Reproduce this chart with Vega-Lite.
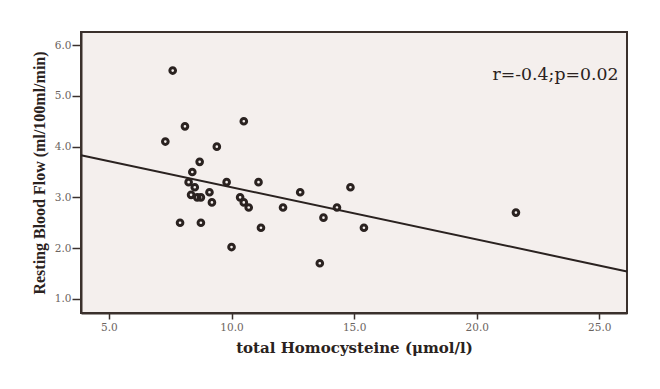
{
  "$schema": "https://vega.github.io/schema/vega-lite/v6.json",
  "autosize": "none",
  "width": 546,
  "height": 281,
  "padding": {"left": 81, "top": 32, "right": 33, "bottom": 76},
  "background": "#ffffff",
  "config": {
    "view": {"fill": "#f4efed", "stroke": "#3a302c", "strokeWidth": 2},
    "font": "Liberation Serif",
    "axis": {
      "grid": false,
      "domainColor": "#3a302c",
      "domainWidth": 2,
      "tickColor": "#3a302c",
      "tickWidth": 1.5,
      "labelFont": "DejaVu Serif",
      "labelFontSize": 10.5,
      "labelColor": "#6b6460",
      "titleFontWeight": "bold",
      "titleColor": "#2a2220"
    }
  },
  "datasets": {
    "points": [
      {"hcy": 7.6, "rbf": 5.5},
      {"hcy": 8.1, "rbf": 4.4},
      {"hcy": 7.3, "rbf": 4.1},
      {"hcy": 10.5, "rbf": 4.5},
      {"hcy": 9.4, "rbf": 4.0},
      {"hcy": 8.7, "rbf": 3.7},
      {"hcy": 8.4, "rbf": 3.5},
      {"hcy": 8.25, "rbf": 3.3},
      {"hcy": 8.5, "rbf": 3.2},
      {"hcy": 9.8, "rbf": 3.3},
      {"hcy": 11.1, "rbf": 3.3},
      {"hcy": 12.8, "rbf": 3.1},
      {"hcy": 14.85, "rbf": 3.2},
      {"hcy": 8.35, "rbf": 3.05},
      {"hcy": 8.6, "rbf": 3.0},
      {"hcy": 8.75, "rbf": 3.0},
      {"hcy": 9.1, "rbf": 3.1},
      {"hcy": 9.2, "rbf": 2.9},
      {"hcy": 10.35, "rbf": 3.0},
      {"hcy": 10.5, "rbf": 2.9},
      {"hcy": 10.7, "rbf": 2.8},
      {"hcy": 12.1, "rbf": 2.8},
      {"hcy": 14.3, "rbf": 2.8},
      {"hcy": 13.75, "rbf": 2.6},
      {"hcy": 7.9, "rbf": 2.5},
      {"hcy": 8.75, "rbf": 2.5},
      {"hcy": 11.2, "rbf": 2.4},
      {"hcy": 10.0, "rbf": 2.02},
      {"hcy": 13.6, "rbf": 1.7},
      {"hcy": 15.4, "rbf": 2.4},
      {"hcy": 21.6, "rbf": 2.7}
    ],
    "fit": [
      {"hcy": 3.86, "rbf": 3.83},
      {"hcy": 26.13, "rbf": 1.54}
    ]
  },
  "layer": [
    {
      "data": {"name": "fit"},
      "mark": {"type": "line", "color": "#2a2220", "strokeWidth": 2},
      "encoding": {
        "x": {
          "field": "hcy", "type": "quantitative",
          "title": "total Homocysteine (μmol/l)",
          "scale": {"domain": [3.86, 26.13], "nice": false, "zero": false},
          "axis": {"values": [5, 10, 15, 20, 25], "format": ".1f", "tickSize": 6, "labelPadding": 3, "titlePadding": 8, "titleFont": "DejaVu Serif", "titleFontSize": 15}
        },
        "y": {
          "field": "rbf", "type": "quantitative",
          "title": "Resting Blood Flow (ml/100ml/min)",
          "scale": {"domain": [0.72, 6.26], "nice": false, "zero": false},
          "axis": {"values": [1, 2, 3, 4, 5, 6], "format": ".1f", "tickSize": 9, "labelPadding": 1, "titlePadding": 7, "titleFont": "Liberation Serif", "titleFontSize": 16}
        }
      }
    },
    {
      "data": {"name": "points"},
      "mark": {"type": "point", "shape": "circle", "filled": false, "stroke": "#2a2220", "strokeWidth": 3, "size": 32, "opacity": 1},
      "encoding": {
        "x": {"field": "hcy", "type": "quantitative"},
        "y": {"field": "rbf", "type": "quantitative"}
      }
    },
    {
      "data": {"values": [{"label": "r=-0.4;p=0.02"}]},
      "mark": {"type": "text", "align": "right", "baseline": "middle", "font": "DejaVu Serif", "fontSize": 17.3, "color": "#2a2220"},
      "encoding": {
        "x": {"datum": 25.78, "type": "quantitative"},
        "y": {"datum": 5.42, "type": "quantitative"},
        "text": {"field": "label"}
      }
    }
  ]
}
